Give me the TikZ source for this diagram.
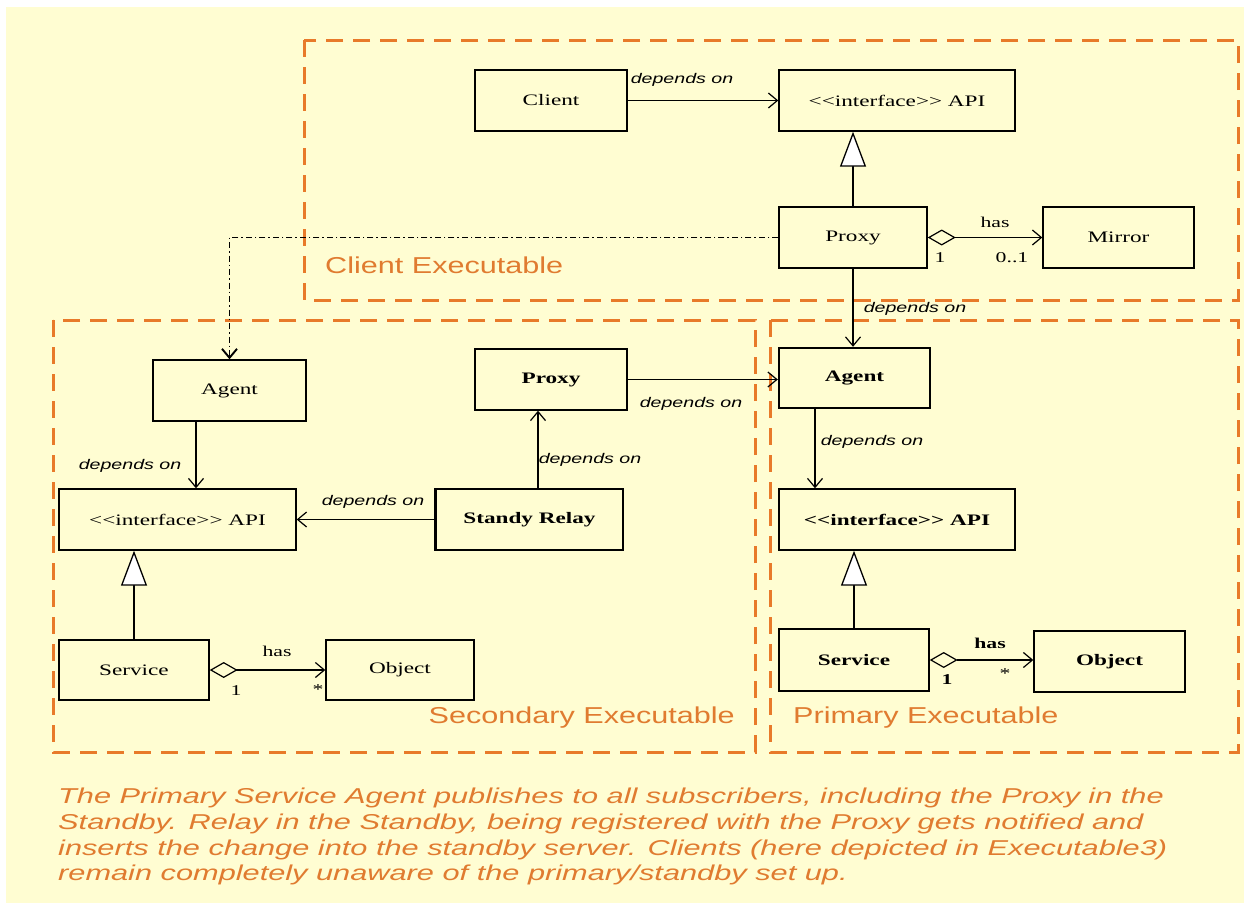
\documentclass[tikz,border=0pt]{standalone}
\usepackage{fontspec}
\usetikzlibrary{arrows.meta}
\newfontfamily\boxfont[FakeStretch=1.45]{Liberation Serif}
\newfontfamily\depfont[FakeStretch=1.4]{Liberation Sans}
\newfontfamily\orfont[FakeStretch=1.33]{Liberation Sans}
\newfontfamily\capfont[FakeStretch=1.43]{Liberation Sans}
\definecolor{bgy}{HTML}{FFFDD2}
\definecolor{ordash}{HTML}{E87A2A}
\definecolor{ortext}{HTML}{E07B30}
\tikzset{
  cls/.style={draw=black, line width=1.4pt, minimum height=61pt, inner sep=0pt, font=\boxfont\fontsize{16}{18}\selectfont},
  dep/.style={line width=1.2pt, -{Straight Barb[length=9pt,width=15pt,line width=1.2pt]}},
  gen/.style={line width=1.3pt, -{Triangle[length=35pt,width=26pt,fill=white,line width=1.3pt]}},
  agg/.style={line width=1.2pt, {Diamond[open,length=28pt,width=16pt,line width=1.2pt]}-{Straight Barb[length=9pt,width=15pt,line width=1.2pt]}},
  deplbl/.style={font=\depfont\itshape\fontsize{14}{16}\selectfont, inner sep=0pt},
  smalllbl/.style={font=\boxfont\fontsize{15}{17}\selectfont, inner sep=0pt},
  exe/.style={draw=ordash, line width=3pt, dash pattern=on 17pt off 10pt},
  exelbl/.style={font=\orfont\fontsize{23}{26}\selectfont, text=ortext, inner sep=0pt},
  captxt/.style={font=\capfont\itshape\fontsize{21.5}{26}\selectfont, text=ortext, inner sep=0pt, anchor=base west}
}
\begin{document}
\begin{tikzpicture}[x=1pt,y=-1pt]
\useasboundingbox (0,0) rectangle (1244,905);
\fill[bgy] (6,7) rectangle (1244,903);

% executable frames
\draw[exe] (304,40) rectangle (1238,300);
\draw[exe] (53,320) rectangle (755,752);
\draw[exe] (770,320) rectangle (1238,752);
\node[exelbl, anchor=west] (lblC) at (325,265) {Client Executable};
\node[exelbl, anchor=east] (lblS) at (735,718) {Secondary Executable};
\node[exelbl, anchor=west] (lblP) at (793,718) {Primary Executable};

% client executable
\node[cls, minimum width=152pt] (client) at (551,100.5) {Client};
\node[cls, minimum width=236pt] (apiT) at (897,100.5) {<{}<interface>{}> API};
\node[cls, minimum width=148pt] (proxyT) at (853,237.5) {Proxy};
\node[cls, minimum width=151pt] (mirror) at (1118.5,237.5) {Mirror};

% secondary executable
\node[cls, minimum width=153pt] (agentS) at (229.5,390.5) {Agent};
\node[cls, minimum width=152pt] (proxyS) at (551,379.5) {\bfseries Proxy};
\node[cls, minimum width=237pt] (apiS) at (177.5,519.5) {<{}<interface>{}> API};
\node[cls, minimum width=187pt] (relay) at (529.5,519.5) {\bfseries Standy Relay};
\node[cls, minimum width=150pt, minimum height=60pt] (serviceS) at (134,670) {Service};
\node[cls, minimum width=148pt, minimum height=60pt] (objectS) at (400,670) {Object};

% primary executable
\node[cls, line width=2.4pt, minimum width=151pt, minimum height=60pt] (agentP) at (854.5,378) {\bfseries Agent};
\node[cls, minimum width=236pt] (apiP) at (897,519.5) {\bfseries <{}<interface>{}> API};
\node[cls, minimum width=150pt, minimum height=62pt] (serviceP) at (854,660) {\bfseries Service};
\node[cls, minimum width=151pt] (objectP) at (1109.5,661.5) {\bfseries Object};

% thick left edge of relay
\draw[line width=3pt] (relay.north west) -- (relay.south west);

% connectors: client executable
\draw[dep] (client.east) -- (apiT.west);
\node[deplbl] (l1) at (682,80) {depends on};
\draw[gen] (proxyT.north) -- (proxyT.north |- apiT.south);
\draw[agg] (proxyT.east) -- (mirror.west);
\node[smalllbl] (hasT) at (995,222) {has};
\node[smalllbl] (oneT) at (940,258) {1};
\node[smalllbl] (zeroT) at (1012,258) {0..1};
\draw[dep] (proxyT.south) -- (proxyT.south |- agentP.north);
\node[deplbl] (l2) at (915,309) {depends on};

% dash-dot link to secondary agent
\draw[line width=1.9pt, dash pattern=on 6pt off 3pt on 1.5pt off 3pt, -{Straight Barb[length=9pt,width=15pt,line width=1.9pt]}]
  (proxyT.west) -| (agentS.north);

% secondary connectors
\draw[dep] ([xshift=-33.5pt]agentS.south) -- ([xshift=-33.5pt]agentS.south |- apiS.north);
\node[deplbl] (l3) at (130,466) {depends on};
\draw[dep] (relay.west) -- (apiS.east);
\node[deplbl] (l4) at (373,502) {depends on};
\draw[dep] ([xshift=8.5pt]relay.north) -- ([xshift=8.5pt]relay.north |- proxyS.south);
\node[deplbl] (l5) at (590,460) {depends on};
\draw[dep] (proxyS.east) -- (proxyS.east -| agentP.west);
\node[deplbl] (l6) at (691,404) {depends on};
\draw[gen] (serviceS.north) -- (serviceS.north |- apiS.south);
\draw[agg] (serviceS.east) -- (objectS.west);
\node[smalllbl] (hasS) at (277,651) {has};
\node[smalllbl] (oneS) at (236,691) {1};
\node[smalllbl] (starS) at (318,690) {*};

% primary connectors
\draw[dep] ([xshift=-39.5pt]agentP.south) -- ([xshift=-39.5pt]agentP.south |- apiP.north);
\node[deplbl] (l7) at (872,442) {depends on};
\draw[gen] (serviceP.north) -- (serviceP.north |- apiP.south);
\draw[agg] (serviceP.east) -- (serviceP.east -| objectP.west);
\node[smalllbl, font=\boxfont\bfseries\fontsize{15}{17}\selectfont] (hasP) at (990,643) {has};
\node[smalllbl, font=\boxfont\bfseries\fontsize{15}{17}\selectfont] (oneP) at (947,680) {1};
\node[smalllbl] (starP) at (1005,674) {*};

% caption
\node[captxt] (c1) at (58,803) {The Primary Service Agent publishes to all subscribers, including the Proxy in the};
\node[captxt] (c2) at (58,829) {Standby. Relay in the Standby, being registered with the Proxy gets notified and};
\node[captxt] (c3) at (58,855) {inserts the change into the standby server. Clients (here depicted in Executable3)};
\node[captxt] (c4) at (58,880) {remain completely unaware of the primary/standby set up.};
\end{tikzpicture}
\end{document}
